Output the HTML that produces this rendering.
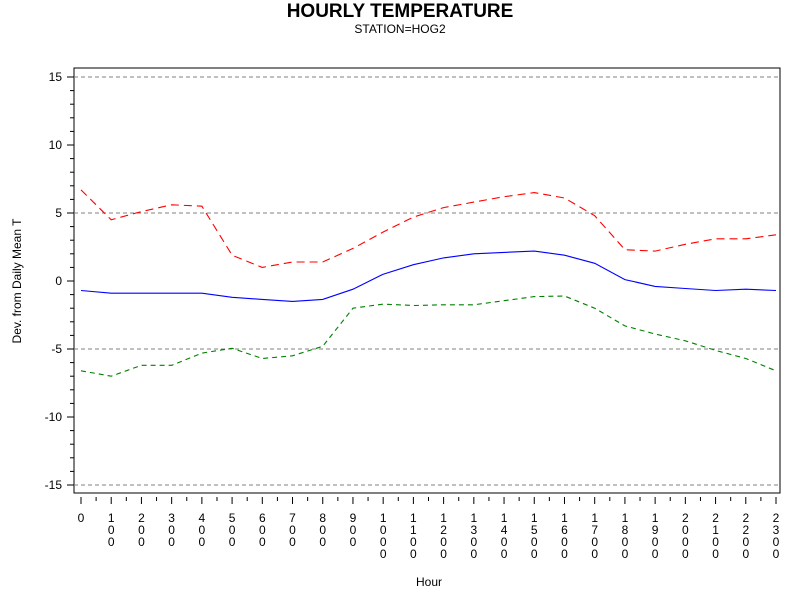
<!DOCTYPE html>
<html><head><meta charset="utf-8"><style>
body{margin:0;background:#fff;}
svg text{font-family:"Liberation Sans",sans-serif;}
</style></head><body>
<svg id="chart" width="800" height="600" viewBox="0 0 800 600" xmlns="http://www.w3.org/2000/svg">
<text x="400" y="17" text-anchor="middle" font-size="19" font-weight="bold">HOURLY TEMPERATURE</text>
<text x="400" y="33" text-anchor="middle" font-size="12">STATION=HOG2</text>
<rect x="74" y="68" width="706" height="425" fill="none" stroke="#000" stroke-width="1"/>
<g id="grid"></g><g id="yaxis"></g><g id="xaxis"></g><g id="series"></g>
<text transform="translate(21,281) rotate(-90)" text-anchor="middle" font-size="12">Dev. from Daily Mean T</text>
<text x="429" y="586" text-anchor="middle" font-size="12">Hour</text>
</svg>
<script>
const hours=[0,1,2,3,4,5,6,7,8,9,10,11,12,13,14,15,16,17,18,19,20,21,22,23];
const xLabels=["0","100","200","300","400","500","600","700","800","900","1000","1100","1200","1300","1400","1500","1600","1700","1800","1900","2000","2100","2200","2300"];
const upperValues=[6.7,4.5,5.1,5.6,5.5,1.9,1.0,1.4,1.4,2.4,3.6,4.7,5.4,5.8,6.2,6.5,6.1,4.8,2.3,2.2,2.7,3.1,3.1,3.4];
const meanValues=[-0.7,-0.9,-0.9,-0.9,-0.9,-1.2,-1.35,-1.5,-1.35,-0.6,0.5,1.2,1.7,2.0,2.1,2.2,1.9,1.3,0.1,-0.4,-0.55,-0.7,-0.6,-0.7];
const lowerValues=[-6.6,-7.0,-6.2,-6.2,-5.3,-4.95,-5.7,-5.5,-4.8,-2.0,-1.7,-1.8,-1.75,-1.75,-1.45,-1.15,-1.1,-2.0,-3.3,-3.9,-4.4,-5.1,-5.7,-6.6];
const yTicks=[-15,-10,-5,0,5,10,15];
const refLines=[-15,-5,5,15];
const NS="http://www.w3.org/2000/svg";
const X=h=>81+h*(776-81)/23;
const Y=v=>281-v*13.6;
function mk(tag,attrs,parent){const e=document.createElementNS(NS,tag);for(const k in attrs)e.setAttribute(k,attrs[k]);parent.appendChild(e);return e;}
const grid=document.getElementById('grid'),ya=document.getElementById('yaxis'),xa=document.getElementById('xaxis'),se=document.getElementById('series');
refLines.forEach(v=>{const l=mk('line',{x1:74,x2:780,y1:Y(v),y2:Y(v),stroke:'#808080','stroke-dasharray':'4,3'},grid);

});
for(let v=-15;v<=15;v++){const major=v%5===0;const t=mk('line',{x1:major?67:70,x2:74,y1:Y(v),y2:Y(v),stroke:'#000'},ya);

}
yTicks.forEach(v=>{const t=mk('text',{x:62,y:Y(v)+4,'text-anchor':'end','font-size':12},ya);t.textContent=v;

});
mk('line',{x1:74,x2:780,y1:493,y2:493,stroke:'#000'},xa);
hours.forEach((h,i)=>{const t=mk('line',{x1:X(h),x2:X(h),y1:497,y2:504,stroke:'#000'},xa);


if(i<hours.length-1){const m=mk('line',{x1:X(h+0.5),x2:X(h+0.5),y1:497,y2:501,stroke:'#000'},xa);

}
const lab=xLabels[i];const tx=mk('text',{x:X(h),'text-anchor':'middle','font-size':12},xa);


for(let k=0;k<lab.length;k++){const s=mk('tspan',{x:X(h),y:522+k*12},tx);s.textContent=lab[k];}});
function line(vals,color,dash,name){const d=vals.map((v,i)=>(i?'L':'M')+X(hours[i]).toFixed(1)+','+Y(v).toFixed(1)).join('');
const p=mk('path',{d:d,fill:'none',stroke:color,'stroke-width':1.1},se);if(dash)p.setAttribute('stroke-dasharray',dash);

}
line(upperValues,'#ff0000','8,5','upper-bound-line');
line(meanValues,'#0000ff',null,'mean-line');
line(lowerValues,'#008000','5,4','lower-bound-line');
</script>
</body></html>
